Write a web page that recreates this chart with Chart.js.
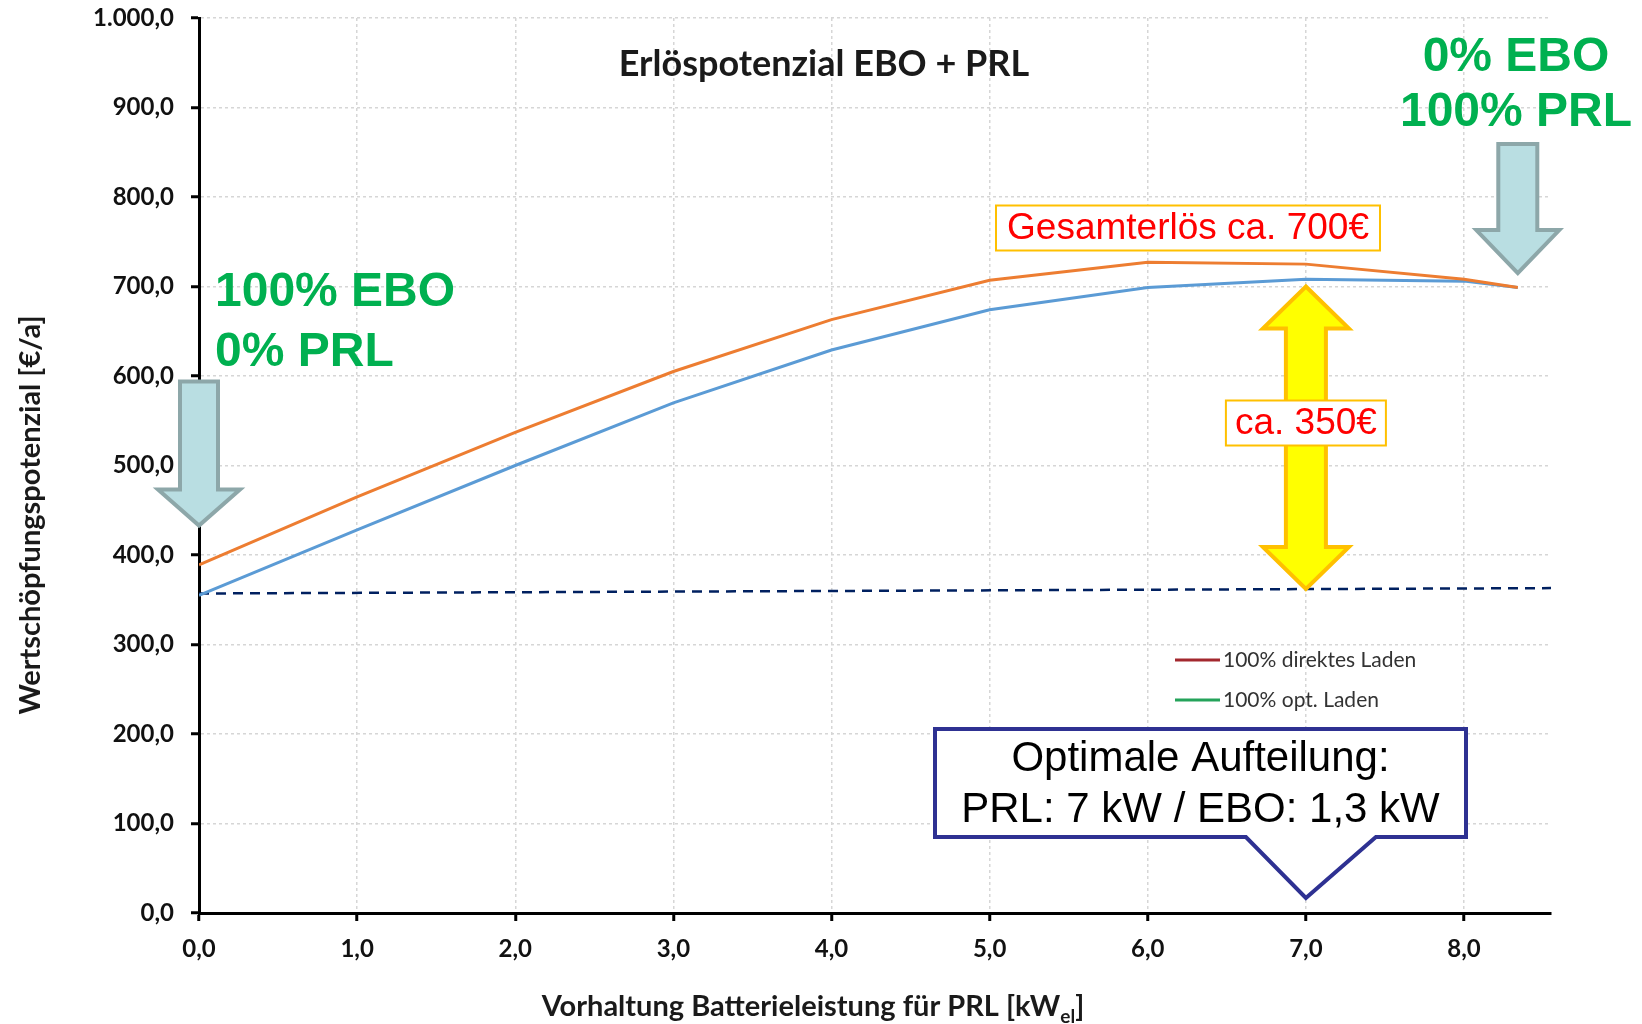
<!DOCTYPE html>
<html lang="de">
<head>
<meta charset="utf-8">
<title>Erlöspotenzial EBO + PRL</title>
<script src="https://cdn.jsdelivr.net/npm/chart.js@4/dist/chart.umd.min.js"></script>
<style>
  html, body { margin: 0; padding: 0; background: #fff; }
  #wrap { width: 1642px; height: 1024px; }
</style>
</head>
<body>
<div id="wrap"><canvas id="myChart" width="1642" height="1024"></canvas></div>
<script>
// Vorhaltung Batterieleistung für PRL [kW_el]
const leistungPRL = [0, 1, 2, 3, 4, 5, 6, 7, 8, 8.34];
// Wertschöpfungspotenzial [€/a]
const direktesLaden = [389, 465, 537, 605, 663, 707, 727, 725, 708, 699];
const optLaden = [355, 428, 500, 570, 629, 674, 699, 708, 706, 699];
// Grundlinie (reiner EBO-Erlös)
const basisX = [0, 8.55];
const basisY = [357, 363];

// Achsenbeschriftung
const xTicks = [0, 1, 2, 3, 4, 5, 6, 7, 8];
const yTicks = [0, 100, 200, 300, 400, 500, 600, 700, 800, 900, 1000];

// Zahl im deutschen Format, z.B. 1.000,0
function deZahl(v) {
    const [ganz, dez] = v.toFixed(1).split('.');
    return ganz.replace(/\B(?=(\d{3})+(?!\d))/g, '.') + ',' + dez;
}

function punkte(xs, ys) {
    return xs.map((x, i) => ({ x: x, y: ys[i] }));
}

// Pfeil nach unten, Spitze bei (tx, ty)
function pfeilRunter(ctx, tx, ty, laenge, schaft, kopfB, kopfL) {
    ctx.beginPath();
    ctx.moveTo(tx - schaft / 2, ty - laenge);
    ctx.lineTo(tx + schaft / 2, ty - laenge);
    ctx.lineTo(tx + schaft / 2, ty - kopfL);
    ctx.lineTo(tx + kopfB / 2, ty - kopfL);
    ctx.lineTo(tx, ty);
    ctx.lineTo(tx - kopfB / 2, ty - kopfL);
    ctx.lineTo(tx - schaft / 2, ty - kopfL);
    ctx.closePath();
}

// Doppelpfeil senkrecht
function doppelPfeil(ctx, x, yOben, yUnten, schaft, kopfB, kopfL) {
    ctx.beginPath();
    ctx.moveTo(x, yOben);
    ctx.lineTo(x + kopfB / 2, yOben + kopfL);
    ctx.lineTo(x + schaft / 2, yOben + kopfL);
    ctx.lineTo(x + schaft / 2, yUnten - kopfL);
    ctx.lineTo(x + kopfB / 2, yUnten - kopfL);
    ctx.lineTo(x, yUnten);
    ctx.lineTo(x - kopfB / 2, yUnten - kopfL);
    ctx.lineTo(x - schaft / 2, yUnten - kopfL);
    ctx.lineTo(x - schaft / 2, yOben + kopfL);
    ctx.lineTo(x - kopfB / 2, yOben + kopfL);
    ctx.closePath();
}

function textBox(ctx, cx, cy, w, h, text) {
    ctx.fillStyle = '#ffffff';
    ctx.fillRect(cx - w / 2, cy - h / 2, w, h);
    ctx.strokeStyle = '#FFC000';
    ctx.lineWidth = 2;
    ctx.strokeRect(cx - w / 2, cy - h / 2, w, h);
    ctx.fillStyle = '#FF0000';
    ctx.font = '37px "Liberation Sans", Arial, sans-serif';
    ctx.textAlign = 'center';
    ctx.textBaseline = 'middle';
    ctx.fillText(text, cx, cy + 1);
}

// Titel, Achsentitel, Pfeile, Hinweise und Legende
const beschriftung = {
    id: 'beschriftung',
    afterDatasetsDraw(chart) {
        const { ctx, scales: { x, y } } = chart;
        const px = v => x.getPixelForValue(v);
        const py = v => y.getPixelForValue(v);
        ctx.save();

        // Diagrammtitel
        ctx.fillStyle = '#1a1a1a';
        ctx.font = 'bold 36px Lato, sans-serif';
        ctx.textAlign = 'center';
        ctx.textBaseline = 'middle';
        ctx.fillText('Erlöspotenzial EBO + PRL', 824, 64);

        // Y-Achsentitel
        ctx.save();
        ctx.translate(31, 515);
        ctx.rotate(-Math.PI / 2);
        ctx.font = 'bold 29px Lato, sans-serif';
        ctx.fillText('Wertschöpfungspotenzial [€/a]', 0, 0);
        ctx.restore();

        // X-Achsentitel mit Index
        const haupt = 'Vorhaltung Batterieleistung für PRL [kW';
        const index = 'el';
        const ende = ']';
        ctx.textAlign = 'left';
        ctx.textBaseline = 'alphabetic';
        ctx.font = 'bold 29px Lato, sans-serif';
        const wH = ctx.measureText(haupt).width;
        const wE = ctx.measureText(ende).width;
        ctx.font = 'bold 19px Lato, sans-serif';
        const wI = ctx.measureText(index).width;
        let tx = 813 - (wH + wI + wE) / 2;
        const basis = 1016;
        ctx.font = 'bold 29px Lato, sans-serif';
        ctx.fillText(haupt, tx, basis);
        tx += wH;
        ctx.font = 'bold 19px Lato, sans-serif';
        ctx.fillText(index, tx, basis + 7);
        tx += wI;
        ctx.font = 'bold 29px Lato, sans-serif';
        ctx.fillText(ende, tx, basis);

        // graue Pfeile an den Randpunkten
        ctx.lineJoin = 'miter';
        ctx.fillStyle = '#B9DEE2';
        ctx.strokeStyle = '#8DA7A9';
        ctx.lineWidth = 4;
        pfeilRunter(ctx, px(0), py(433), 144, 38, 82, 36);
        ctx.fill(); ctx.stroke();
        pfeilRunter(ctx, px(8.34), py(715), 129, 39, 83, 43);
        ctx.fill(); ctx.stroke();

        // grüne Hinweise
        ctx.fillStyle = '#00B050';
        ctx.font = 'bold 48px "Liberation Sans", Arial, sans-serif';
        ctx.textBaseline = 'middle';
        ctx.textAlign = 'left';
        ctx.fillText('100% EBO', 215, 293);
        ctx.fillText('0% PRL', 215, 353);
        ctx.textAlign = 'center';
        ctx.fillText('0% EBO', 1516, 58);
        ctx.fillText('100% PRL', 1516, 113);

        // gelber Doppelpfeil: Mehrerlös
        ctx.fillStyle = '#FFFF00';
        ctx.strokeStyle = '#FFC000';
        ctx.lineWidth = 4;
        doppelPfeil(ctx, px(7), py(700), py(362), 40, 86, 42);
        ctx.fill(); ctx.stroke();

        textBox(ctx, 1188, 228, 384, 45, 'Gesamterlös ca. 700€');
        textBox(ctx, px(7), 423, 160, 45, 'ca. 350€');

        // Legende
        const leg = [
            { farbe: '#A3282E', text: '100% direktes Laden', yy: 660 },
            { farbe: '#24A35A', text: '100% opt. Laden', yy: 700 }
        ];
        ctx.font = '21px Lato, sans-serif';
        ctx.textAlign = 'left';
        ctx.textBaseline = 'middle';
        leg.forEach(e => {
            ctx.strokeStyle = e.farbe;
            ctx.lineWidth = 3;
            ctx.beginPath();
            ctx.moveTo(1175, e.yy);
            ctx.lineTo(1220, e.yy);
            ctx.stroke();
            ctx.fillStyle = '#333333';
            ctx.fillText(e.text, 1223, e.yy);
        });

        // Sprechblase: optimale Aufteilung
        const spitzeX = px(7), spitzeY = 898;
        const l = 935, r = 1466, o = 729, u = 837;
        ctx.beginPath();
        ctx.moveTo(l, o);
        ctx.lineTo(r, o);
        ctx.lineTo(r, u);
        ctx.lineTo(spitzeX + 70, u);
        ctx.lineTo(spitzeX, spitzeY);
        ctx.lineTo(spitzeX - 60, u);
        ctx.lineTo(l, u);
        ctx.closePath();
        ctx.fillStyle = '#ffffff';
        ctx.fill();
        ctx.strokeStyle = '#2E3192';
        ctx.lineWidth = 4;
        ctx.lineJoin = 'miter';
        ctx.stroke();
        ctx.fillStyle = '#000000';
        ctx.font = '42px "Liberation Sans", Arial, sans-serif';
        ctx.textAlign = 'center';
        ctx.fillText('Optimale Aufteilung:', (l + r) / 2, 759);
        ctx.fillText('PRL: 7 kW / EBO: 1,3 kW', (l + r) / 2, 810);

        ctx.restore();
    }
};

const tickFont = { family: 'Lato', weight: 'bold', size: 24 };

let ctx = document.getElementById('myChart');

let config = {
    type: 'line',
    data: {
        datasets: [
            {
                label: '100% direktes Laden',
                data: punkte(leistungPRL, direktesLaden),
                borderColor: '#ED7D31',
                borderWidth: 3,
                pointRadius: 0,
                tension: 0
            },
            {
                label: '100% opt. Laden',
                data: punkte(leistungPRL, optLaden),
                borderColor: '#5B9BD5',
                borderWidth: 3,
                pointRadius: 0,
                tension: 0
            },
            {
                label: 'EBO',
                data: punkte(basisX, basisY),
                borderColor: '#002060',
                borderWidth: 2.5,
                borderDash: [10, 7],
                pointRadius: 0,
                tension: 0
            }
        ]
    },
    options: {
        responsive: false,
        animation: false,
        layout: { padding: { top: 18, right: 91, left: 0, bottom: 0 } },
        plugins: {
            legend: { display: false },
            title: { display: false },
            tooltip: { enabled: false }
        },
        scales: {
            x: {
                type: 'linear',
                min: 0,
                max: 8.55,
                afterBuildTicks: s => { s.ticks = xTicks.map(v => ({ value: v })); },
                afterFit: s => {
                    s.height = 111;
                    s.paddingLeft = 0;
                    s.paddingRight = 0;
                },
                ticks: {
                    callback: v => deZahl(v),
                    font: tickFont,
                    color: '#111',
                    padding: 14,
                    maxRotation: 0
                },
                grid: {
                    color: '#d6d6d6',
                    lineWidth: 1.5,
                    drawTicks: true,
                    tickLength: 8,
                    tickColor: '#000',
                    tickWidth: 3
                },
                border: { color: '#000', width: 3, dash: [3, 3] }
            },
            y: {
                min: 0,
                max: 1000,
                afterBuildTicks: s => { s.ticks = yTicks.map(v => ({ value: v })); },
                afterFit: s => {
                    s.width = 199;
                    s.paddingTop = 0;
                    s.paddingBottom = 0;
                },
                ticks: {
                    callback: v => deZahl(v),
                    font: tickFont,
                    color: '#111',
                    padding: 17
                },
                grid: {
                    color: '#d6d6d6',
                    lineWidth: 1.5,
                    drawTicks: true,
                    tickLength: 8,
                    tickColor: '#000',
                    tickWidth: 3
                },
                border: { color: '#000', width: 3, dash: [3, 3] }
            }
        }
    },
    plugins: [beschriftung]
};

let myChart = new Chart(ctx, config);
</script>
</body>
</html>
